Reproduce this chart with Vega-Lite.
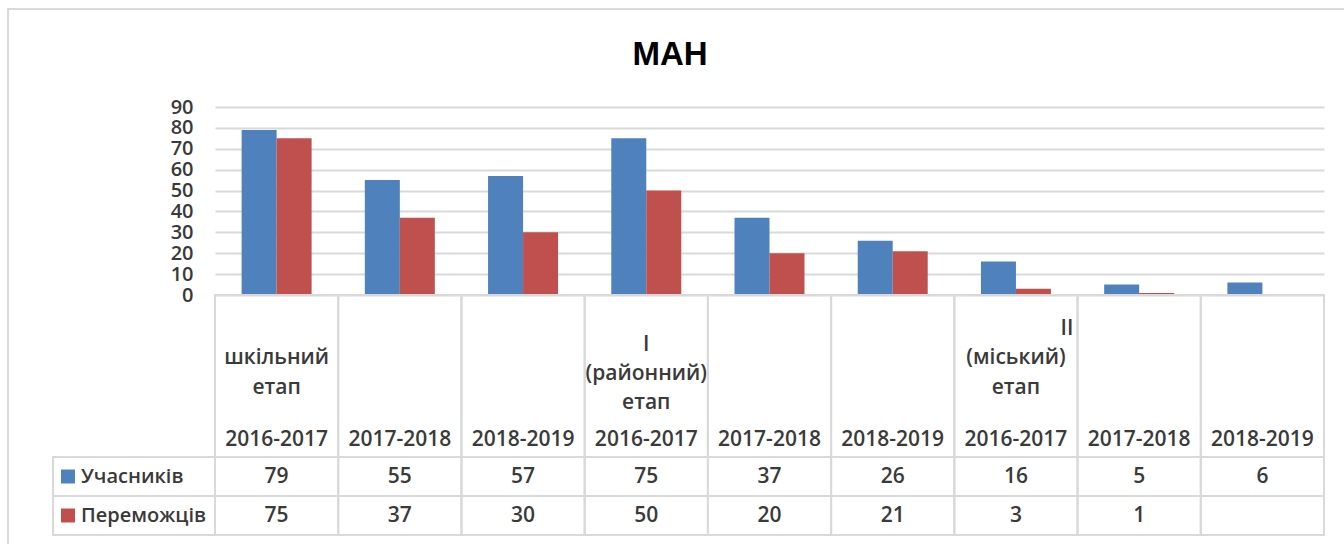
{
  "$schema": "https://vega.github.io/schema/vega-lite/v6.json",
  "autosize": {"type": "none"},
  "padding": {"left": 215, "top": 107, "right": 20, "bottom": 249},
  "width": 1109,
  "height": 188,
  "background": "white",
  "title": {
    "text": "МАН",
    "font": "Liberation Sans",
    "fontSize": 33,
    "fontWeight": "bold",
    "color": "#000000",
    "anchor": "middle",
    "frame": "group",
    "dx": -99.5,
    "offset": -64
  },
  "config": {
    "view": {"stroke": null},
    "text": {"font": "Open Sans", "fontSize": 21, "fontWeight": 600, "color": "#3a3a3a"}
  },
  "datasets": {
    "cats": [
      {"cat": "шкільний етап 2016-2017", "year": "2016-2017", "stage": "шкільний\nетап"},
      {"cat": "шкільний етап 2017-2018", "year": "2017-2018"},
      {"cat": "шкільний етап 2018-2019", "year": "2018-2019"},
      {"cat": "I (районний) етап 2016-2017", "year": "2016-2017", "stage": "I\n(районний)\nетап"},
      {"cat": "I (районний) етап 2017-2018", "year": "2017-2018"},
      {"cat": "I (районний) етап 2018-2019", "year": "2018-2019"},
      {"cat": "II (міський) етап 2016-2017", "year": "2016-2017", "stage": "(міський)\nетап", "stageNo": "II"},
      {"cat": "II (міський) етап 2017-2018", "year": "2017-2018"},
      {"cat": "II (міський) етап 2018-2019", "year": "2018-2019"}
    ],
    "vals": [
      {"cat": "шкільний етап 2016-2017", "series": "Учасників", "value": 79},
      {"cat": "шкільний етап 2016-2017", "series": "Переможців", "value": 75},
      {"cat": "шкільний етап 2017-2018", "series": "Учасників", "value": 55},
      {"cat": "шкільний етап 2017-2018", "series": "Переможців", "value": 37},
      {"cat": "шкільний етап 2018-2019", "series": "Учасників", "value": 57},
      {"cat": "шкільний етап 2018-2019", "series": "Переможців", "value": 30},
      {"cat": "I (районний) етап 2016-2017", "series": "Учасників", "value": 75},
      {"cat": "I (районний) етап 2016-2017", "series": "Переможців", "value": 50},
      {"cat": "I (районний) етап 2017-2018", "series": "Учасників", "value": 37},
      {"cat": "I (районний) етап 2017-2018", "series": "Переможців", "value": 20},
      {"cat": "I (районний) етап 2018-2019", "series": "Учасників", "value": 26},
      {"cat": "I (районний) етап 2018-2019", "series": "Переможців", "value": 21},
      {"cat": "II (міський) етап 2016-2017", "series": "Учасників", "value": 16},
      {"cat": "II (міський) етап 2016-2017", "series": "Переможців", "value": 3},
      {"cat": "II (міський) етап 2017-2018", "series": "Учасників", "value": 5},
      {"cat": "II (міський) етап 2017-2018", "series": "Переможців", "value": 1},
      {"cat": "II (міський) етап 2018-2019", "series": "Учасників", "value": 6},
      {"cat": "II (міський) етап 2018-2019", "series": "Переможців", "value": null}
    ]
  },
  "resolve": {"scale": {"x": "independent", "y": "independent"}},
  "layer": [
    {
      "data": {"values": [{}]},
      "mark": {"type": "rect", "filled": false, "stroke": "#D9D9D9", "strokeWidth": 2},
      "encoding": {
        "x": {"datum": "рамка", "type": "nominal", "scale": {"domain": ["рамка"], "range": [-207, 1140], "paddingInner": 0, "paddingOuter": 0}, "axis": null},
        "y": {"datum": "рамка", "type": "nominal", "scale": {"domain": ["рамка"], "range": [-98, 460], "paddingInner": 0, "paddingOuter": 0}, "axis": null}
      }
    },
    {
      "data": {"name": "vals"},
      "transform": [{"filter": "isValid(datum.value)"}],
      "mark": {"type": "bar"},
      "encoding": {
        "x": {"field": "cat", "type": "nominal", "sort": null, "scale": {"paddingInner": 0.432, "paddingOuter": 0.216}, "axis": null},
        "xOffset": {"field": "series", "type": "nominal", "sort": ["Учасників", "Переможців"]},
        "y": {
          "field": "value", "type": "quantitative",
          "scale": {"domain": [0, 90], "nice": false, "zero": true},
          "axis": {
            "title": null, "values": [0, 10, 20, 30, 40, 50, 60, 70, 80, 90],
            "domain": false, "ticks": false, "labelPadding": 22,
            "labelOverlap": false, "labelBound": false,
            "labelFont": "Open Sans", "labelFontSize": 20, "labelFontWeight": 600, "labelColor": "#3a3a3a",
            "grid": true, "gridColor": "#D9D9D9", "gridWidth": 2
          }
        },
        "color": {"field": "series", "type": "nominal", "scale": {"domain": ["Учасників", "Переможців"], "range": ["#4F81BD", "#C0504D"]}, "legend": null}
      }
    },
    {
      "data": {"name": "cats"},
      "encoding": {
        "x": {"field": "cat", "type": "nominal", "sort": null, "scale": {"paddingInner": 0, "paddingOuter": 0}, "axis": null}
      },
      "layer": [
        {
          "mark": {"type": "rect", "filled": false, "stroke": "#D9D9D9", "strokeWidth": 2},
          "encoding": {
            "y": {"datum": "заголовок", "type": "nominal", "scale": {"domain": ["заголовок"], "range": [188, 350], "paddingInner": 0, "paddingOuter": 0}, "axis": null}
          }
        },
        {
          "mark": {"type": "text", "baseline": "middle", "align": "center"},
          "encoding": {
            "y": {"datum": "заголовок", "type": "nominal", "bandPosition": 0.895, "axis": null},
            "text": {"field": "year"}
          }
        },
        {
          "transform": [{"filter": "datum.stage && split(datum.stage, '\\n').length === 2"}],
          "mark": {"type": "text", "baseline": "middle", "align": "center", "lineBreak": "\n", "lineHeight": 30},
          "encoding": {
            "y": {"datum": "заголовок", "type": "nominal", "bandPosition": 0.389, "axis": null},
            "text": {"field": "stage"}
          }
        },
        {
          "transform": [{"filter": "datum.stage && split(datum.stage, '\\n').length === 3"}],
          "mark": {"type": "text", "baseline": "middle", "align": "center", "lineBreak": "\n", "lineHeight": 29},
          "encoding": {
            "y": {"datum": "заголовок", "type": "nominal", "bandPosition": 0.309, "axis": null},
            "text": {"field": "stage"}
          }
        },
        {
          "transform": [{"filter": "datum.stageNo"}],
          "mark": {"type": "text", "baseline": "middle", "align": "right"},
          "encoding": {
            "x": {"field": "cat", "type": "nominal", "sort": null, "bandPosition": 0.966, "axis": null},
            "y": {"datum": "заголовок", "type": "nominal", "bandPosition": 0.21, "axis": null},
            "text": {"field": "stageNo"}
          }
        }
      ]
    },
    {
      "data": {"name": "vals"},
      "encoding": {
        "x": {"field": "cat", "type": "nominal", "sort": null, "scale": {"paddingInner": 0, "paddingOuter": 0}, "axis": null},
        "y": {"field": "series", "type": "nominal", "sort": ["Учасників", "Переможців"], "scale": {"range": [350, 428], "paddingInner": 0, "paddingOuter": 0}, "axis": null}
      },
      "layer": [
        {"mark": {"type": "rect", "filled": false, "stroke": "#D9D9D9", "strokeWidth": 2}},
        {
          "transform": [{"filter": "isValid(datum.value)"}],
          "mark": {"type": "text", "baseline": "middle", "align": "center"},
          "encoding": {"text": {"field": "value", "type": "quantitative"}}
        }
      ]
    },
    {
      "data": {"values": [{"series": "Учасників"}, {"series": "Переможців"}]},
      "encoding": {
        "y": {"field": "series", "type": "nominal", "sort": ["Учасників", "Переможців"], "scale": {"range": [350, 428], "paddingInner": 0, "paddingOuter": 0}, "axis": null}
      },
      "layer": [
        {
          "mark": {"type": "rect", "filled": false, "stroke": "#D9D9D9", "strokeWidth": 2},
          "encoding": {
            "x": {"datum": "легенда", "type": "nominal", "scale": {"domain": ["легенда"], "range": [-162, 0], "paddingInner": 0, "paddingOuter": 0}, "axis": null}
          }
        },
        {
          "mark": {"type": "square", "size": 196, "opacity": 1, "filled": true},
          "encoding": {
            "x": {"datum": "легенда", "type": "nominal", "bandPosition": 0.0926, "axis": null},
            "color": {"field": "series", "type": "nominal", "scale": {"domain": ["Учасників", "Переможців"], "range": ["#4F81BD", "#C0504D"]}, "legend": null}
          }
        },
        {
          "mark": {"type": "text", "baseline": "middle", "align": "left", "fontSize": 20},
          "encoding": {
            "x": {"datum": "легенда", "type": "nominal", "bandPosition": 0.173, "axis": null},
            "text": {"field": "series"}
          }
        }
      ]
    }
  ]
}
